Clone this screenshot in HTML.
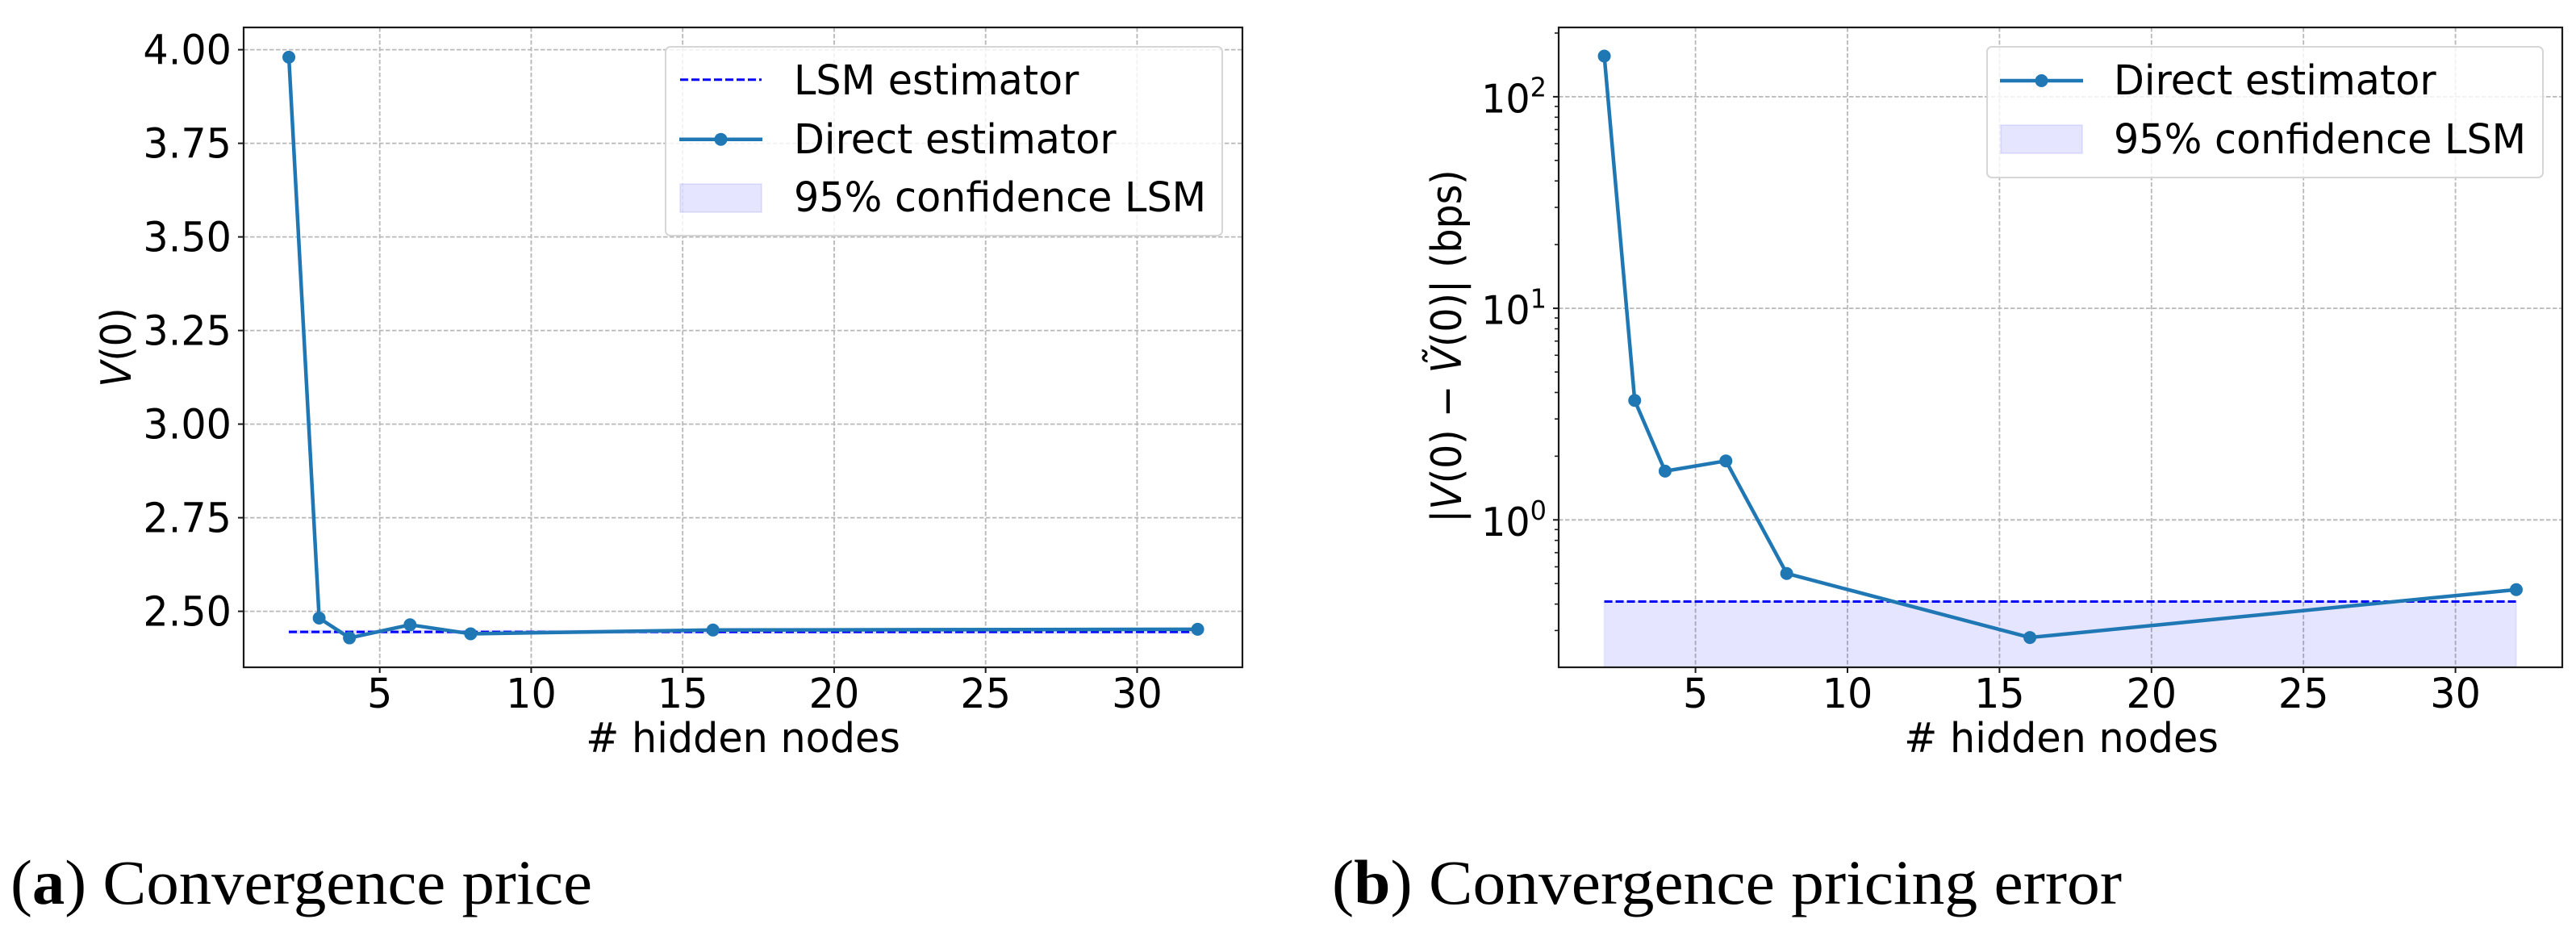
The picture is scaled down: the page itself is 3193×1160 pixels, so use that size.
<!DOCTYPE html>
<html lang="en">
<head>
<meta charset="utf-8">
<title>Convergence price and pricing error</title>
<style>
  html, body { margin: 0; padding: 0; background: #fff; width: 3193px; height: 1160px; overflow: hidden; }
  svg { display: block; }
  text { font-family: "DejaVu Sans", "Liberation Sans", sans-serif; fill: #000; }
  .caption { font-family: "Liberation Serif", serif; font-size: 78px; }
  .cap-tag { font-weight: bold; }
</style>
</head>
<body>
<svg id="figure" xmlns="http://www.w3.org/2000/svg" width="3193" height="1160" viewBox="0 0 3193 1160">
  <rect x="0" y="0" width="3193" height="1160" fill="#fff"/>
  <defs>
    <clipPath id="clip-a"><rect x="302" y="34" width="1238" height="793"/></clipPath>
    <clipPath id="clip-b"><rect x="1932" y="34" width="1244" height="793"/></clipPath>
  </defs>

  <g id="panel-a">
    <g id="a-grid"></g>
    <g id="a-marks" clip-path="url(#clip-a)"></g>
    <rect x="302" y="34" width="1238" height="793" fill="none" stroke="#1a1a1a" stroke-width="2.2"/>
    <g id="a-ticks"></g>
    <text transform="translate(921,932) scale(0.965,1)" font-size="51" text-anchor="middle"># hidden nodes</text>
    <text transform="translate(162,430.5) rotate(-90) scale(0.91,1)" font-size="51.5" text-anchor="middle"><tspan font-style="italic">V</tspan>(0)</text>

    <g>
      <rect x="825" y="58" width="690" height="234" rx="6" fill="#fff" fill-opacity="0.8" stroke="#d6d6d6" stroke-width="2"/>
      <line x1="843" y1="98.7" x2="944" y2="98.7" stroke="#0000ff" stroke-width="3" stroke-dasharray="10 4"/>
      <text transform="translate(984,117) scale(0.965,1)" font-size="51">LSM estimator</text>
      <line x1="842" y1="172.7" x2="945" y2="172.7" stroke="#1f77b4" stroke-width="4.5"/>
      <circle cx="893.5" cy="172.7" r="8" fill="#1f77b4"/>
      <text transform="translate(984,190) scale(0.965,1)" font-size="51">Direct estimator</text>
      <rect x="843" y="228" width="101" height="35" fill="#0000ff" fill-opacity="0.1" stroke="#0000ff" stroke-opacity="0.08" stroke-width="2"/>
      <text transform="translate(984,262) scale(0.965,1)" font-size="51">95% confidence LSM</text>
    </g>
  </g>

  <g id="panel-b">
    <g id="b-grid"></g>
    <g id="b-marks" clip-path="url(#clip-b)"></g>
    <rect x="1932" y="34" width="1244" height="793" fill="none" stroke="#1a1a1a" stroke-width="2.2"/>
    <g id="b-ticks"></g>
    <text transform="translate(2555,932) scale(0.965,1)" font-size="51" text-anchor="middle"># hidden nodes</text>
    <text transform="translate(1811,429) rotate(-90) scale(0.92,1)" font-size="51.5" text-anchor="middle">|<tspan font-style="italic">V</tspan>(0) − <tspan font-style="italic">V&#771;</tspan>(0)| (bps)</text>

    <g>
      <rect x="2463" y="58" width="689" height="162" rx="6" fill="#fff" fill-opacity="0.8" stroke="#d6d6d6" stroke-width="2"/>
      <line x1="2479" y1="100" x2="2582" y2="100" stroke="#1f77b4" stroke-width="4.5"/>
      <circle cx="2530.5" cy="100" r="8" fill="#1f77b4"/>
      <text transform="translate(2620,117) scale(0.965,1)" font-size="51">Direct estimator</text>
      <rect x="2480" y="155" width="101" height="35" fill="#0000ff" fill-opacity="0.1" stroke="#0000ff" stroke-opacity="0.08" stroke-width="2"/>
      <text transform="translate(2620,190) scale(0.965,1)" font-size="51">95% confidence LSM</text>
    </g>
  </g>

  <text class="caption" x="13" y="1120" textLength="721" lengthAdjust="spacingAndGlyphs">(<tspan class="cap-tag">a</tspan>) Convergence price</text>
  <text class="caption" x="1651" y="1120" textLength="979" lengthAdjust="spacingAndGlyphs">(<tspan class="cap-tag">b</tspan>) Convergence pricing error</text>
</svg>

<script>
const hiddenNodes = [2, 3, 4, 6, 8, 16, 32];
const priceValues = [3.98, 2.482, 2.429, 2.464, 2.44, 2.45, 2.452];
const lsmPriceValues = [2.445, 2.445, 2.445, 2.445, 2.445, 2.445, 2.445];
const lsmPriceLower = [2.441, 2.441, 2.441, 2.441, 2.441, 2.441, 2.441];
const lsmPriceUpper = [2.449, 2.449, 2.449, 2.449, 2.449, 2.449, 2.449];
const errorValues = [155.7, 3.67, 1.70, 1.90, 0.558, 0.278, 0.468];
const lsmErrorUpper = [0.411, 0.411, 0.411, 0.411, 0.411, 0.411, 0.411];
const lsmErrorLower = [0.2, 0.2, 0.2, 0.2, 0.2, 0.2, 0.2];
const xTickValues = [5, 10, 15, 20, 25, 30];
const priceTickValues = [2.5, 2.75, 3, 3.25, 3.5, 3.75, 4];
const priceTickLabels = ['2.50', '2.75', '3.00', '3.25', '3.50', '3.75', '4.00'];
const errorTickExponents = [0, 1, 2];
const errorMinorTicks = [0.3, 0.4, 0.5, 0.6, 0.7, 0.8, 0.9, 2, 3, 4, 5, 6, 7, 8, 9, 20, 30, 40, 50, 60, 70, 80, 90, 200];

const SVG_NS = 'http://www.w3.org/2000/svg';
const BLUE = '#1f77b4';
const GRID = '#b8b8b8';
const GRID_DASH = '5.5 2.5';

function mk(parent, tag, props) {
  const el = document.createElementNS(SVG_NS, tag);
  Object.keys(props).forEach(function (k) { el.setAttribute(k, props[k]); });
  parent.appendChild(el);
  return el;
}

// Axis functions
const xA = function (v) { return 470.7 + (v - 5) * 37.55; };
const yA = function (v) { return 757.6 - (v - 2.5) * 464; };
const xB = function (v) { return 2101.6 + (v - 5) * 37.68; };
const yB = function (v) { return 644.3 - Math.log10(v) * 262.2; };

function pts(xs, ys, fx, fy) {
  return xs.map(function (x, i) { return fx(x).toFixed(2) + ',' + fy(ys[i]).toFixed(2); }).join(' ');
}

function drawVertical(gridG, tickG, fx, top, bottom) {
  xTickValues.forEach(function (t) {
    const g = mk(gridG, 'line', { x1: fx(t), x2: fx(t), y1: top, y2: bottom, stroke: GRID, 'stroke-width': 1.8, 'stroke-dasharray': GRID_DASH });
    
    
    const tick = mk(tickG, 'line', { x1: fx(t), x2: fx(t), y1: bottom, y2: bottom + 7, stroke: '#1a1a1a', 'stroke-width': 2 });
    
    
    const label = mk(tickG, 'text', { transform: 'translate(' + fx(t) + ',877) scale(0.965,1)', 'font-size': 51, 'text-anchor': 'middle' });
    label.textContent = String(t);
    
    
  });
}

function drawSeries(marksG, fx, fy, lower, upper, lsm, values) {
  const band = mk(marksG, 'polygon', {
    points: pts(hiddenNodes, upper, fx, fy) + ' ' + pts(hiddenNodes.slice().reverse(), lower.slice().reverse(), fx, fy),
    fill: '#0000ff', 'fill-opacity': 0.1, stroke: '#0000ff', 'stroke-opacity': 0.06, 'stroke-width': 2
  });
  
  

  const dash = mk(marksG, 'polyline', {
    points: pts(hiddenNodes, lsm, fx, fy), fill: 'none', stroke: '#0000ff', 'stroke-width': 3, 'stroke-dasharray': '10 4'
  });
  
  

  const line = mk(marksG, 'polyline', {
    points: pts(hiddenNodes, values, fx, fy), fill: 'none', stroke: BLUE, 'stroke-width': 4.5, 'stroke-linejoin': 'round'
  });
  
  

  hiddenNodes.forEach(function (x, i) {
    const dot = mk(marksG, 'circle', { cx: fx(x), cy: fy(values[i]), r: 8, fill: BLUE });
    
    
  });
}

// Panel A
const aGrid = document.getElementById('a-grid');
const aTicks = document.getElementById('a-ticks');
const aMarks = document.getElementById('a-marks');
drawVertical(aGrid, aTicks, xA, 34, 827);
priceTickValues.forEach(function (t, i) {
  const g = mk(aGrid, 'line', { x1: 302, x2: 1540, y1: yA(t), y2: yA(t), stroke: GRID, 'stroke-width': 1.8, 'stroke-dasharray': GRID_DASH });
  
  
  const tick = mk(aTicks, 'line', { x1: 295, x2: 302, y1: yA(t), y2: yA(t), stroke: '#1a1a1a', 'stroke-width': 2 });
  
  
  const label = mk(aTicks, 'text', { transform: 'translate(287,' + (yA(t) + 18) + ') scale(0.965,1)', 'font-size': 51, 'text-anchor': 'end' });
  label.textContent = priceTickLabels[i];
  
  
});
drawSeries(aMarks, xA, yA, lsmPriceLower, lsmPriceUpper, lsmPriceValues, priceValues);

// Panel B
const bGrid = document.getElementById('b-grid');
const bTicks = document.getElementById('b-ticks');
const bMarks = document.getElementById('b-marks');
drawVertical(bGrid, bTicks, xB, 34, 827);
errorTickExponents.forEach(function (e) {
  const y = yB(Math.pow(10, e));
  const g = mk(bGrid, 'line', { x1: 1932, x2: 3176, y1: y, y2: y, stroke: GRID, 'stroke-width': 1.8, 'stroke-dasharray': GRID_DASH });
  
  
  const tick = mk(bTicks, 'line', { x1: 1925, x2: 1932, y1: y, y2: y, stroke: '#1a1a1a', 'stroke-width': 2 });
  
  
  const label = mk(bTicks, 'text', { transform: 'translate(1917,' + (y + 19.5) + ') scale(0.97,1)', 'font-size': 49, 'text-anchor': 'end' });
  
  
  const base = mk(label, 'tspan', {});
  base.textContent = '10';
  const sup = mk(label, 'tspan', { 'font-size': 33, dy: -20 });
  sup.textContent = String(e);
});
errorMinorTicks.forEach(function (v) {
  const tick = mk(bTicks, 'line', { x1: 1927, x2: 1932, y1: yB(v), y2: yB(v), stroke: '#1a1a1a', 'stroke-width': 1.6 });
  
  
});
drawSeries(bMarks, xB, yB, lsmErrorLower, lsmErrorUpper, lsmErrorUpper, errorValues);
</script>
</body>
</html>
